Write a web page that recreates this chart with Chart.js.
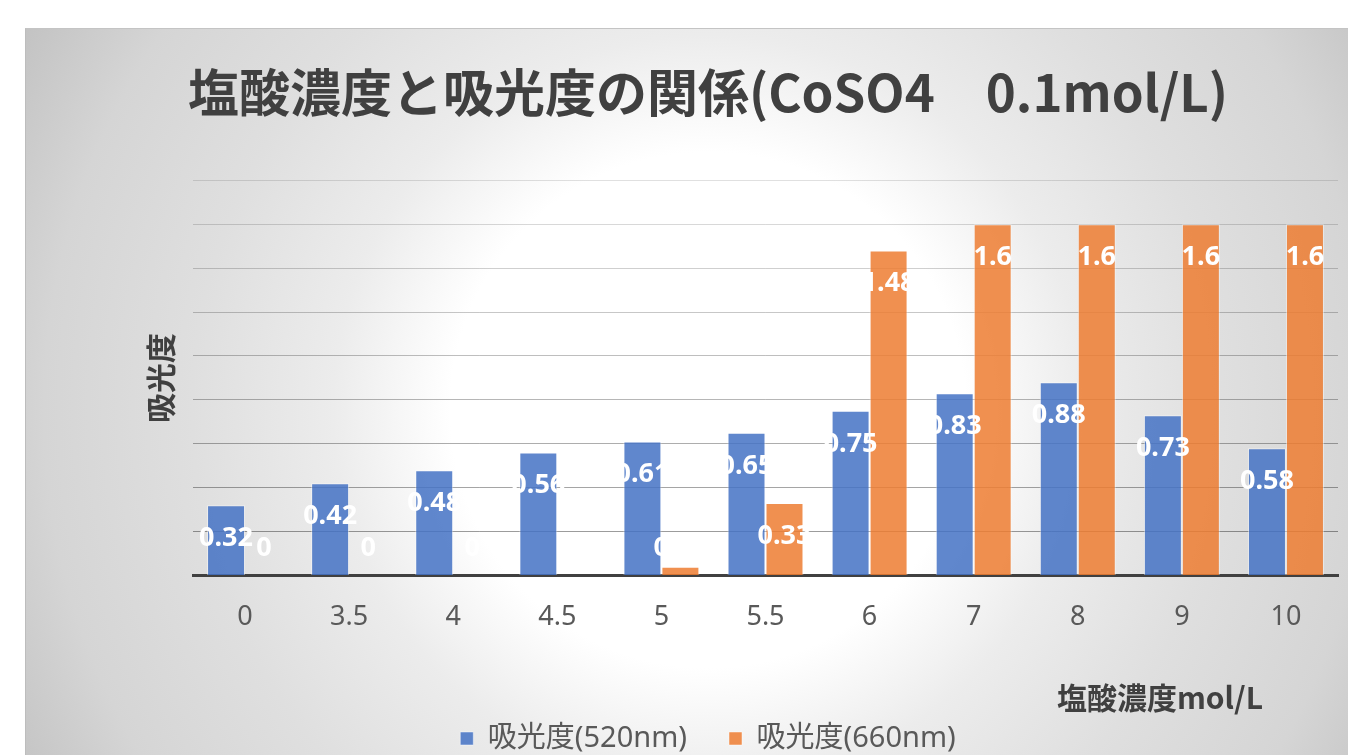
<!DOCTYPE html>
<html lang="ja">
<head>
    <meta charset="UTF-8">
    <title>塩酸濃度と吸光度の関係</title>
    <script src="https://cdn.jsdelivr.net/npm/chart.js@4"></script>
    <style>
        html, body {
            margin: 0;
            padding: 0;
            background: #fff;
            overflow: hidden;
            width: 1348px;
            height: 755px;
        }
        .card {
            position: absolute;
            left: 25px;
            top: 28px;
            width: 1364px;
            height: 734px;
            border-top: 1px solid #c4c4c4;
            border-left: 1px solid #bdbdbd;
            background: radial-gradient(circle farthest-corner at 682px 381px,
                #ffffff 0%, #ffffff 33%, #ececec 48%, #dfdfdf 66%, #d5d5d5 85%, #c3c3c3 100%);
        }
        canvas {
            display: block;
        }
    </style>
</head>
<body>
    <div class="card">
        <canvas id="absChart" width="1364" height="734"></canvas>
    </div>

    <script>
        // 塩酸濃度 (mol/L)
        const concentrations = ['0', '3.5', '4', '4.5', '5', '5.5', '6', '7', '8', '9', '10'];
        // 吸光度
        const abs520 = [0.32, 0.42, 0.48, 0.56, 0.61, 0.65, 0.75, 0.83, 0.88, 0.73, 0.58];
        const abs660 = [0, 0, 0, 0, 0.04, 0.33, 1.48, 1.6, 1.6, 1.6, 1.6];
        const seriesNames = ['吸光度(520nm)', '吸光度(660nm)'];
        const yMax = 1.8;
        const yStep = 0.2;

        const chartTitle = '塩酸濃度と吸光度の関係(CoSO4　0.1mol/L)';
        const xTitle = '塩酸濃度mol/L';
        const yTitle = '吸光度';

        const cjk = '"Noto Sans CJK JP"';
        const latin = '"Noto Sans", "Noto Sans CJK JP"';
        Chart.defaults.font.family = cjk + ', sans-serif';

        // 棒の中に白い数値ラベルを描く
        const valueLabels = {
            id: 'valueLabels',
            afterDatasetsDraw(chart) {
                const ctx = chart.ctx;
                const base = chart.scales.y.getPixelForValue(0);
                ctx.save();
                ctx.font = 'bold 27px ' + latin;
                ctx.fillStyle = '#ffffff';
                ctx.textAlign = 'center';
                ctx.textBaseline = 'middle';
                chart.data.datasets.forEach((ds, i) => {
                    chart.getDatasetMeta(i).data.forEach((bar, j) => {
                        const y = Math.min(bar.y + 33, base - 27);
                        ctx.fillText(String(ds.data[j]), bar.x, y);
                    });
                });
                ctx.restore();
            }
        };

        // 横軸タイトル（右寄せ）
        const axisTitleX = {
            id: 'axisTitleX',
            afterDraw(chart) {
                const { ctx, chartArea } = chart;
                ctx.save();
                ctx.font = 'bold 30px ' + cjk;
                ctx.fillStyle = '#404040';
                ctx.textAlign = 'right';
                ctx.textBaseline = 'middle';
                ctx.fillText(xTitle, chartArea.right - 75, chartArea.bottom + 122);
                ctx.restore();
            }
        };

        const ctx = document.getElementById('absChart').getContext('2d');
        new Chart(ctx, {
            type: 'bar',
            data: {
                labels: concentrations,
                datasets: [
                    {
                        label: seriesNames[0],
                        data: abs520,
                        backgroundColor: 'rgba(68, 114, 196, 0.85)',
                        borderColor: 'rgba(255, 255, 255, 0.45)',
                        borderWidth: 1
                    },
                    {
                        label: seriesNames[1],
                        data: abs660,
                        backgroundColor: 'rgba(237, 125, 49, 0.85)',
                        borderColor: 'rgba(255, 255, 255, 0.45)',
                        borderWidth: 1
                    }
                ]
            },
            options: {
                responsive: false,
                animation: false,
                layout: {
                    padding: { top: 33, left: 0, right: 0, bottom: 0 }
                },
                datasets: {
                    bar: { categoryPercentage: 0.73, barPercentage: 1 }
                },
                plugins: {
                    title: {
                        display: true,
                        text: chartTitle,
                        color: '#404040',
                        font: { size: 51, weight: 'bold' },
                        padding: { top: 0, bottom: 57 }
                    },
                    legend: {
                        position: 'bottom',
                        labels: {
                            boxWidth: 13,
                            boxHeight: 13,
                            padding: 42,
                            color: '#595959',
                            font: { family: latin, size: 29 }
                        }
                    },
                    tooltip: { enabled: false }
                },
                scales: {
                    x: {
                        grid: { display: false, drawTicks: false },
                        border: { display: true, color: '#404040', width: 3 },
                        ticks: {
                            color: '#595959',
                            font: { family: latin, size: 27 },
                            padding: 26
                        },
                        afterFit(scale) {
                            scale.height += 22;
                        }
                    },
                    y: {
                        min: 0,
                        max: yMax,
                        border: { display: false },
                        grid: {
                            drawTicks: false,
                            lineWidth: 1,
                            color(c) {
                                const v = c.tick ? c.tick.value : 0;
                                if (v <= 0) return 'rgba(0,0,0,0)';
                                const a = 0.12 + 0.3 * (1 - v / yMax);
                                return 'rgba(0, 0, 0, ' + a.toFixed(3) + ')';
                            }
                        },
                        ticks: { display: false, stepSize: yStep },
                        title: {
                            display: true,
                            text: yTitle,
                            color: '#404040',
                            font: { size: 30, weight: 'bold' },
                            padding: { top: 117, bottom: 14 }
                        }
                    },
                    // 右側の余白用（目盛りなし）
                    yRight: {
                        position: 'right',
                        grid: { display: false, drawTicks: false },
                        border: { display: false },
                        ticks: { display: false },
                        afterFit(scale) {
                            scale.width = 52;
                        }
                    }
                }
            },
            plugins: [valueLabels, axisTitleX]
        });
    </script>
</body>
</html>
